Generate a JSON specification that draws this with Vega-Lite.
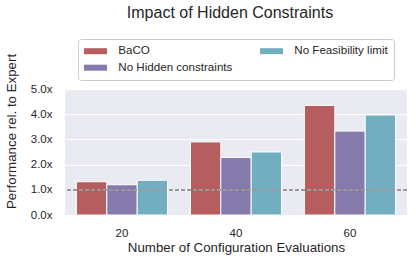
{
  "$schema": "https://vega.github.io/schema/vega-lite/v6.json",
  "width": 342,
  "height": 126,
  "autosize": {"type": "none"},
  "padding": {"left": 65, "top": 89, "right": 9, "bottom": 51},
  "background": "white",
  "config": {
    "view": {"fill": "#eaeaf2", "stroke": null},
    "font": "Liberation Sans",
    "axis": {"labelColor": "#262626", "titleColor": "#262626", "labelFontSize": 11.5, "titleFontSize": 13.3, "titleFontWeight": "normal", "ticks": false, "domain": false}
  },
  "title": {"text": "Impact of Hidden Constraints", "fontSize": 16, "fontWeight": "normal", "color": "#262626", "anchor": "middle", "dx": -6, "offset": 18},
  "data": {
    "values": [
      {"evals": "20", "variant": "BaCO", "perf": 1.32},
      {"evals": "20", "variant": "No Hidden constraints", "perf": 1.2},
      {"evals": "20", "variant": "No Feasibility limit", "perf": 1.38},
      {"evals": "40", "variant": "BaCO", "perf": 2.9},
      {"evals": "40", "variant": "No Hidden constraints", "perf": 2.28},
      {"evals": "40", "variant": "No Feasibility limit", "perf": 2.5},
      {"evals": "60", "variant": "BaCO", "perf": 4.35},
      {"evals": "60", "variant": "No Hidden constraints", "perf": 3.33},
      {"evals": "60", "variant": "No Feasibility limit", "perf": 3.97}
    ]
  },
  "encoding": {
    "y": {"field": "perf", "type": "quantitative", "scale": {"domain": [0, 5]},
      "axis": {"values": [0, 1, 2, 3, 4, 5], "tickCount": 6, "labelOverlap": false, "labelExpr": "format(datum.value, '.1f') + 'x'", "gridColor": "white", "gridWidth": 1, "gridOpacity": 1, "labelPadding": 13, "title": "Performance rel. to Expert", "titleX": -47, "titleY": 42}}
  },
  "layer": [
    {
      "mark": {"type": "bar", "stroke": "white", "strokeWidth": 1},
      "encoding": {
        "x": {"field": "evals", "type": "ordinal", "scale": {"paddingInner": 0.2, "paddingOuter": 0.1},
          "axis": {"labelAngle": 0, "title": "Number of Configuration Evaluations", "labelPadding": 12, "titlePadding": 2, "grid": false}},
        "xOffset": {"field": "variant", "type": "nominal", "sort": ["BaCO", "No Hidden constraints", "No Feasibility limit"]},
        "color": {"field": "variant", "type": "nominal",
          "scale": {"domain": ["BaCO", "No Hidden constraints", "No Feasibility limit"], "range": ["#b55d5f", "#857aab", "#71aec0"]},
          "legend": {"orient": "none", "legendX": 13, "legendY": -50, "columns": 2, "title": null, "strokeColor": "#cccccc", "fillColor": "white", "padding": 6, "cornerRadius": 3, "labelFontSize": 11.6, "labelColor": "#262626", "symbolType": "M-1,-0.5H2.83V0.5H-1Z", "symbolSize": 144, "symbolStrokeWidth": 0, "symbolOpacity": 1, "columnPadding": 27, "rowPadding": 4.7, "labelOffset": 22.3}}
      }
    },
    {
      "mark": {"type": "rule", "strokeDash": [4, 2], "color": "#999999", "strokeWidth": 1.4},
      "encoding": {"y": {"datum": 1}}
    }
  ]
}
